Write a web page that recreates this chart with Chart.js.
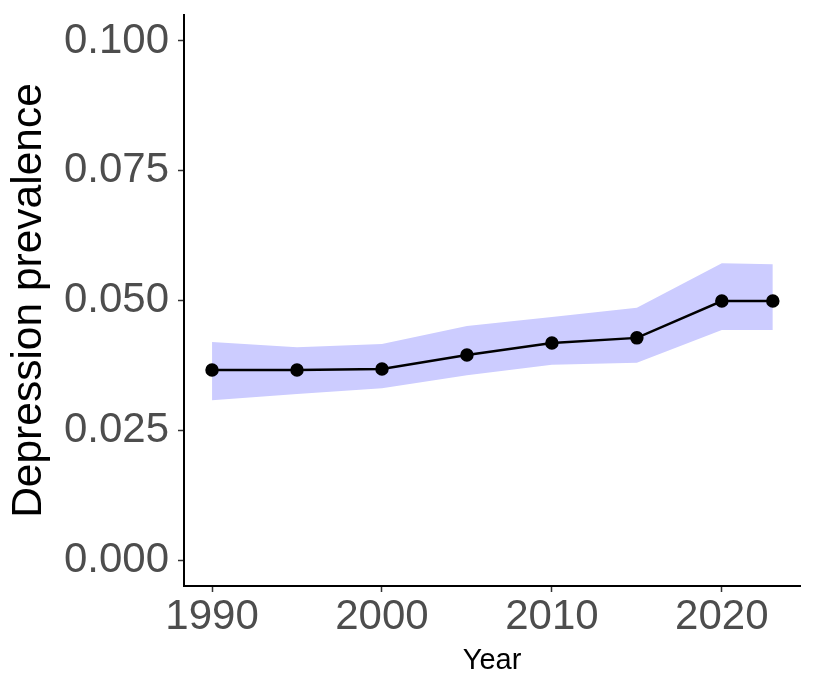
<!DOCTYPE html>
<html lang="en">
<head>
<meta charset="UTF-8">
<title>Depression prevalence by year</title>
<style>
body { margin:0; padding:0; background:#fff; }
#wrap { width:816px; height:692px; }
</style>
</head>
<body>
<div id="wrap"><canvas id="chart" width="816" height="692"></canvas></div>
<script src="https://cdn.jsdelivr.net/npm/chart.js"></script>
<script>
// values
const years = [1990, 1995, 2000, 2005, 2010, 2015, 2020, 2023];
const prevalence = [0.0366, 0.0366, 0.0368, 0.0395, 0.0418, 0.0428, 0.0499, 0.0499];
const upper = [0.0420, 0.0410, 0.0416, 0.0451, 0.0468, 0.0486, 0.0572, 0.0570];
const lower = [0.0308, 0.0320, 0.0331, 0.0356, 0.0376, 0.0380, 0.0443, 0.0443];
const xTicks = [1990, 2000, 2010, 2020];
const yTicks = [0, 0.025, 0.05, 0.075, 0.1];

const pts = arr => years.map((y, i) => ({ x: y, y: arr[i] }));
const tickFont = { family: 'Liberation Sans, Arial, sans-serif', size: 42 };

const ctx = document.getElementById('chart').getContext('2d');
new Chart(ctx, {
  type: 'line',
  data: {
    datasets: [
      { label: 'lower', data: pts(lower), borderWidth: 0, pointRadius: 0, fill: false, order: 2 },
      { label: 'upper', data: pts(upper), borderWidth: 0, pointRadius: 0, fill: '-1',
        backgroundColor: '#ccccff', order: 1 },
      { label: 'prevalence', data: pts(prevalence), borderColor: '#000', borderWidth: 2.5,
        pointRadius: 5.5, pointBackgroundColor: '#000', pointBorderColor: '#000', fill: false, order: 0 }
    ]
  },
  options: {
    responsive: false,
    animation: false,
    layout: { padding: { top: 15, right: 16, left: 0, bottom: 0 } },
    plugins: { legend: { display: false }, tooltip: { enabled: false } },
    scales: {
      x: {
        type: 'linear', min: 1988.35, max: 2024.6,
        afterBuildTicks: s => { s.ticks = xTicks.map(v => ({ value: v })); },
        afterFit: s => { s.height = 106; s.paddingLeft = 0; s.paddingRight = 0; },
        ticks: { font: tickFont, color: '#4d4d4d', padding: 0, maxRotation: 0,
                 callback: v => String(v) },
        grid: { drawOnChartArea: false, drawTicks: true, tickLength: 6, tickColor: '#333', tickWidth: 1.5 },
        border: { display: true, color: '#000', width: 2 },
        title: { display: true, text: 'Year', color: '#000',
                 font: { family: 'Liberation Sans, Arial, sans-serif', size: 29 },
                 padding: { top: 0, bottom: 14 } }
      },
      y: {
        type: 'linear', min: -0.005, max: 0.105,
        afterBuildTicks: s => { s.ticks = yTicks.map(v => ({ value: v })); },
        afterFit: s => { s.width = 184; s.paddingTop = 0; s.paddingBottom = 0; },
        ticks: { font: tickFont, color: '#4d4d4d', padding: 9,
                 callback: v => v.toFixed(3) },
        grid: { drawOnChartArea: false, drawTicks: true, tickLength: 6, tickColor: '#333', tickWidth: 1.5 },
        border: { display: true, color: '#000', width: 2 },
        title: { display: true, text: 'Depression prevalence', color: '#000',
                 font: { family: 'Liberation Sans, Arial, sans-serif', size: 42.5 },
                 padding: { top: 4, bottom: 0 } }
      }
    }
  }
});
</script>
</body>
</html>
